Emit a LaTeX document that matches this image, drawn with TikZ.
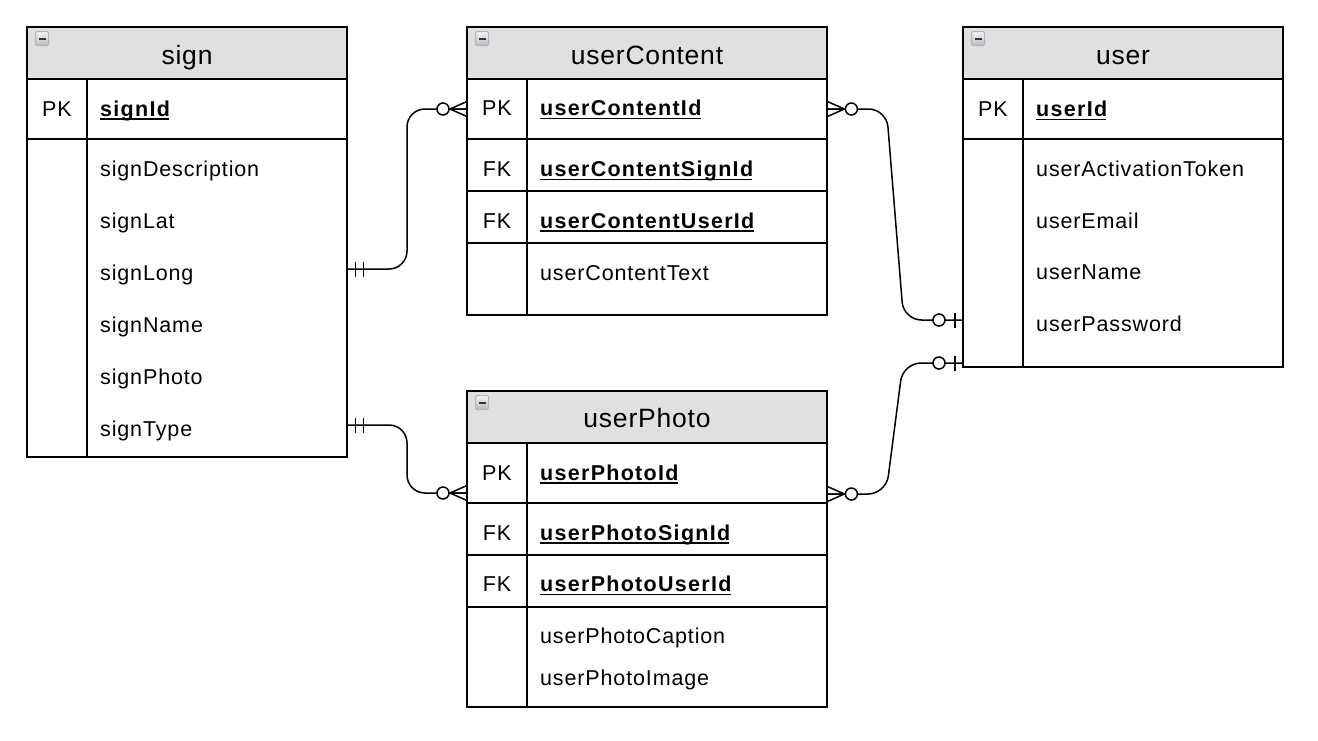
\documentclass[tikz,border=0pt]{standalone}
\usepackage{fontspec}
\setmainfont{Liberation Sans}
\newfontfamily\bodyf{Liberation Sans}[LetterSpace=4]
\newfontfamily\boldf{Liberation Sans}[LetterSpace=6]
\newfontfamily\titlef{Liberation Sans}[LetterSpace=3]
\definecolor{hdrgray}{RGB}{224,224,224}
\tikzset{
  tblbox/.style={draw=none, inner sep=0pt, anchor=north west},
  border/.style={draw=black, line width=2pt},
  hdrfill/.style={fill=hdrgray},
  ttl/.style={anchor=base, inner sep=0pt, font=\titlef\fontsize{26.5}{28}\selectfont},
  fld/.style={anchor=base west, inner sep=0pt, font=\bodyf\fontsize{21.5}{23}\selectfont},
  keyf/.style={fld, anchor=base, font=\bodyf\fontsize{21.5}{23}\selectfont},
  bfld/.style={fld, font=\boldf\fontsize{21.5}{23}\selectfont\bfseries},
  uline/.style={line width=1.6pt},
  conn/.style={line width=1.5pt, rounded corners=18pt},
  mk/.style={line width=1.5pt},
  minusicon/.pic={
    \draw[gray!60, line width=1pt, rounded corners=1.5pt, top color=gray!8, bottom color=blue!10!gray!50] (8.5,4.5) rectangle (21.5,18.5);
    \fill[black!80] (11.5,10.5) rectangle (18.5,12.8);
  },
  mandone/.pic={
    \draw[mk] (-8,-7.5) -- (-8,7.5) (-16,-7.5) -- (-16,7.5);
  },
  zeroone/.pic={
    \draw[mk] (-8,-7.5) -- (-8,7.5);
    \draw[mk, fill=white] (-24,0) circle (6);
  },
  zeromany/.pic={
    \draw[mk] (0,-7.5) -- (-17,0) -- (0,7.5) (0,0) -- (-17,0);
    \draw[mk, fill=white] (-24,0) circle (6);
  },
}
\begin{document}
\begin{tikzpicture}[x=1pt,y=-1pt]
\useasboundingbox[fill=white] (0,0) rectangle (1318,740);

% ---------- table frames ----------
\node[tblbox, minimum width=320pt, minimum height=430pt] (sign) at (27,27) {};
\node[tblbox, minimum width=360pt, minimum height=288pt] (userContent) at (467,27) {};
\node[tblbox, minimum width=320pt, minimum height=340pt] (user) at (963,27) {};
\node[tblbox, minimum width=360pt, minimum height=316pt] (userPhoto) at (467,391) {};

% header fills
\fill[hdrfill] (27,27) rectangle (347,79);
\fill[hdrfill] (467,27) rectangle (827,79);
\fill[hdrfill] (963,27) rectangle (1283,79);
\fill[hdrfill] (467,391) rectangle (827,443);

% inner lines
\draw[border] (27,79) -- (347,79) (27,139) -- (347,139) (87,79) -- (87,457);
\draw[border] (467,79) -- (827,79) (467,139) -- (827,139) (467,191) -- (827,191) (467,243) -- (827,243) (527,79) -- (527,315);
\draw[border] (963,79) -- (1283,79) (963,139) -- (1283,139) (1023,79) -- (1023,367);
\draw[border] (467,443) -- (827,443) (467,503) -- (827,503) (467,555) -- (827,555) (467,607) -- (827,607) (527,443) -- (527,707);

% outer borders
\draw[border] (sign.north west) rectangle (sign.south east);
\draw[border] (userContent.north west) rectangle (userContent.south east);
\draw[border] (user.north west) rectangle (user.south east);
\draw[border] (userPhoto.north west) rectangle (userPhoto.south east);

% minus icons
\pic at (sign.north west) {minusicon};
\pic at (userContent.north west) {minusicon};
\pic at (user.north west) {minusicon};
\pic at (userPhoto.north west) {minusicon};

% ---------- titles ----------
\node[ttl] (signT) at (187,64) {sign};
\node[ttl] (userContentT) at (647,64) {userContent};
\node[ttl] (userT) at (1123,64) {user};
\node[ttl] (userPhotoT) at (647,427.5) {userPhoto};

% ---------- sign ----------
\node[keyf] (signPK) at (57,116) {PK};
\node[bfld] (signId) at (100,116) {signId};
\node[fld] (signDescription) at (100,176.5) {signDescription};
\node[fld] (signLat) at (100,228.5) {signLat};
\node[fld] (signLong) at (100,280.5) {signLong};
\node[fld] (signName) at (100,332) {signName};
\node[fld] (signPhoto) at (100,384) {signPhoto};
\node[fld] (signType) at (100,436) {signType};

% ---------- userContent ----------
\node[keyf] (ucPK) at (497,115.7) {PK};
\node[bfld] (userContentId) at (540,115.7) {userContentId};
\node[keyf] (ucFK1) at (497,176.7) {FK};
\node[bfld] (userContentSignId) at (540,176.7) {userContentSignId};
\node[keyf] (ucFK2) at (497,228.3) {FK};
\node[bfld] (userContentUserId) at (540,228.3) {userContentUserId};
\node[fld] (userContentText) at (540,280) {userContentText};

% ---------- user ----------
\node[keyf] (uPK) at (993,116.5) {PK};
\node[bfld] (userId) at (1036,116.5) {userId};
\node[fld] (userActivationToken) at (1036,176.7) {userActivationToken};
\node[fld] (userEmail) at (1036,228.5) {userEmail};
\node[fld] (userName) at (1036,279.5) {userName};
\node[fld] (userPassword) at (1036,331.7) {userPassword};

% ---------- userPhoto ----------
\node[keyf] (upPK) at (497,480) {PK};
\node[bfld] (userPhotoId) at (540,480) {userPhotoId};
\node[keyf] (upFK1) at (497,540) {FK};
\node[bfld] (userPhotoSignId) at (540,540) {userPhotoSignId};
\node[keyf] (upFK2) at (497,591.7) {FK};
\node[bfld] (userPhotoUserId) at (540,591.7) {userPhotoUserId};
\node[fld] (userPhotoCaption) at (540,643.3) {userPhotoCaption};
\node[fld] (userPhotoImage) at (540,685) {userPhotoImage};

% underlines
\foreach \n in {signId,userContentId,userContentSignId,userContentUserId,userId,userPhotoId,userPhotoSignId,userPhotoUserId}
  \draw[uline] ([yshift=-2.8pt]\n.base west) -- ([xshift=-1pt,yshift=-2.8pt]\n.base east);

% ---------- connectors ----------
\coordinate (c1s) at (sign.east |- 0,269);
\coordinate (c1e) at (userContent.west |- 0,109);
\coordinate (c2s) at (sign.east |- 0,425);
\coordinate (c2e) at (userPhoto.west |- 0,493);
\coordinate (c3s) at (userContent.east |- 0,109);
\coordinate (c3e) at (user.west |- 0,320);
\coordinate (c4s) at (userPhoto.east |- 0,494);
\coordinate (c4e) at (user.west |- 0,363);

\draw[conn] (c1s) -- (407,269) -- (407,109) -- (c1e);
\draw[conn] (c2s) -- (407,425) -- (407,493) -- (c2e);
\draw[conn] (c3s) -- (886.5,109) -- (903.6,320) -- (c3e);
\draw[conn] (c4s) -- (886,494) -- (903,363) -- (c4e);

\pic[rotate=180] at (c1s) {mandone};
\pic at (c1e) {zeromany};
\pic[rotate=180] at (c2s) {mandone};
\pic at (c2e) {zeromany};
\pic[rotate=180] at (c3s) {zeromany};
\pic at (c3e) {zeroone};
\pic[rotate=180] at (c4s) {zeromany};
\pic at (c4e) {zeroone};
\end{tikzpicture}
\end{document}
